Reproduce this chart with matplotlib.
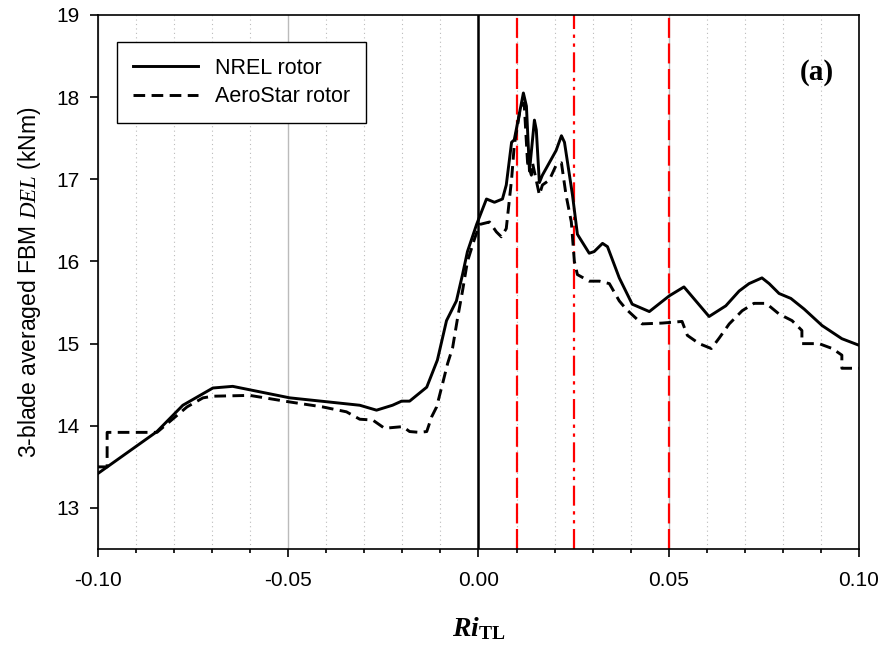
import numpy as np
import matplotlib
matplotlib.use("Agg")
import matplotlib.pyplot as plt
from matplotlib.ticker import MultipleLocator

plt.rcParams["font.family"] = ["Liberation Sans", "DejaVu Sans"]
plt.rcParams["mathtext.fontset"] = "custom"
plt.rcParams["mathtext.rm"] = "Liberation Sans"
plt.rcParams["mathtext.it"] = "Liberation Serif:italic"
plt.rcParams["mathtext.bf"] = "Liberation Serif:bold"
plt.rcParams["mathtext.bfit"] = "Liberation Serif:italic:bold"

# NREL rotor (solid)
ri_nrel = [-0.100, -0.0845, -0.0777, -0.0698, -0.0646, -0.0496, -0.0312, -0.0268,
           -0.0226, -0.0202, -0.0181, -0.0136, -0.0108, -0.0084, -0.0058, -0.0042,
           -0.0029, -0.0005, 0.0021, 0.0042, 0.0063, 0.0073, 0.0087, 0.0094,
           0.0108, 0.0118, 0.0126, 0.0134, 0.0147, 0.0152, 0.0160, 0.0168,
           0.0186, 0.0204, 0.0218, 0.0226, 0.0247, 0.0260, 0.0291, 0.0304,
           0.0326, 0.0339, 0.0370, 0.0404, 0.0449, 0.0501, 0.0540, 0.0606,
           0.0650, 0.0685, 0.0711, 0.0745, 0.0764, 0.0790, 0.0821, 0.0856,
           0.0903, 0.0955, 0.1000]
del_nrel = [13.42, 13.93, 14.25, 14.46, 14.48, 14.34, 14.25, 14.19,
            14.25, 14.30, 14.30, 14.47, 14.80, 15.28, 15.52, 15.84,
            16.12, 16.45, 16.76, 16.72, 16.76, 16.93, 17.45, 17.48,
            17.81, 18.05, 17.89, 17.10, 17.72, 17.60, 16.96, 17.05,
            17.20, 17.35, 17.53, 17.45, 16.81, 16.33, 16.10, 16.12,
            16.22, 16.18, 15.80, 15.48, 15.39, 15.58, 15.69, 15.33,
            15.46, 15.64, 15.73, 15.80, 15.73, 15.61, 15.55, 15.42,
            15.22, 15.06, 14.98]

# AeroStar rotor (dashed)
ri_aero = [-0.100, -0.0976, -0.0976, -0.0845, -0.0766, -0.0724, -0.0698, -0.0601,
           -0.0496, -0.0410, -0.0347, -0.0312, -0.0278, -0.0247, -0.0199, -0.0181,
           -0.0155, -0.0136, -0.0123, -0.0110, -0.0094, -0.0081, -0.0068, -0.0055,
           -0.0042, -0.0029, -0.0010, 0.0003, 0.0029, 0.0047, 0.0060, 0.0073,
           0.0087, 0.0094, 0.0108, 0.0120, 0.0129, 0.0139, 0.0142, 0.0160,
           0.0168, 0.0186, 0.0204, 0.0218, 0.0230, 0.0244, 0.0252, 0.0260,
           0.0291, 0.0318, 0.0344, 0.0370, 0.0388, 0.0430, 0.0483, 0.0535,
           0.0549, 0.0580, 0.0612, 0.0633, 0.0659, 0.0693, 0.0724, 0.0756,
           0.0790, 0.0824, 0.0850, 0.0850, 0.0895, 0.0930, 0.0955, 0.0955,
           0.1000]
del_aero = [13.50, 13.50, 13.92, 13.92, 14.23, 14.34, 14.36, 14.37,
            14.29, 14.23, 14.17, 14.08, 14.07, 13.97, 13.99, 13.93,
            13.92, 13.93, 14.11, 14.23, 14.52, 14.76, 14.95, 15.31,
            15.64, 16.00, 16.28, 16.45, 16.48, 16.36, 16.30, 16.40,
            17.00, 17.41, 17.81, 17.93, 17.20, 17.05, 17.20, 16.81,
            16.93, 16.99, 17.17, 17.20, 16.81, 16.48, 16.00, 15.84,
            15.76, 15.76, 15.73, 15.52, 15.42, 15.24, 15.25, 15.27,
            15.10, 15.00, 14.94, 15.07, 15.24, 15.40, 15.49, 15.49,
            15.36, 15.28, 15.16, 15.00, 15.00, 14.94, 14.86, 14.70,
            14.70]

x_ticks = [-0.10, -0.05, 0.00, 0.05, 0.10]
x_labels = ["-0.10", "-0.05", "0.00", "0.05", "0.10"]
y_ticks = [13, 14, 15, 16, 17, 18, 19]
red_dashed = [0.01, 0.05]
red_dashdot = [0.025]

fig = plt.figure(figsize=(8.86, 6.49), dpi=100)
ax = fig.add_axes([0.1106, 0.154, 0.8589, 0.823])

ax.set_xlim(-0.10, 0.10)
ax.set_ylim(12.5, 19)
ax.set_xticks(x_ticks)
ax.set_xticklabels(x_labels)
ax.xaxis.set_minor_locator(MultipleLocator(0.01))
ax.set_yticks(y_ticks)

ax.grid(which="major", axis="x", color="#bbbbbb", lw=1.0, ls="-")
ax.grid(which="minor", axis="x", color="#bbbbbb", lw=0.8, ls=(0, (1, 3)))
ax.set_axisbelow(True)

ax.axvline(0, color="black", lw=1.8, zorder=2)
for xv in red_dashed:
    ax.axvline(xv, color="#ff0000", lw=1.6, dashes=(9, 2.5), zorder=2)
for xv in red_dashdot:
    ax.axvline(xv, color="#ff0000", lw=1.6, dashes=(9, 2.5, 1.5, 2.5, 1.5, 2.5), zorder=2)

ax.plot(ri_nrel, del_nrel, color="black", lw=2.1, label="NREL rotor", zorder=3)
ax.plot(ri_aero, del_aero, color="black", lw=2.1, dashes=(4, 2.2),
        label="AeroStar rotor", zorder=3)

for s in ax.spines.values():
    s.set_linewidth(1.2)
ax.tick_params(axis="both", which="major", direction="out", length=6, width=1.2,
               labelsize=15)
ax.tick_params(axis="x", which="major", pad=10)
ax.tick_params(axis="y", which="major", pad=7)
ax.tick_params(axis="x", which="minor", direction="out", length=3, width=1.2)

ax.set_ylabel(r"3-blade averaged FBM $\mathit{DEL}$ (kNm)", fontsize=16.5, labelpad=10)
ax.set_xlabel(r"$\mathbfit{Ri}_{\mathbf{TL}}$", fontsize=20, labelpad=18)

ax.text(0.945, 0.893, "(a)", transform=ax.transAxes, ha="center", va="center",
        fontsize=21, fontweight="bold", family="Liberation Serif")

leg = ax.legend(loc="upper left", bbox_to_anchor=(0.025, 0.95), fontsize=15.5,
                frameon=True, fancybox=False, edgecolor="black", framealpha=1,
                handlelength=3.0, handletextpad=0.8, borderpad=0.75,
                labelspacing=0.35, borderaxespad=0)
leg.get_frame().set_linewidth(1.0)

fig.savefig("out.png", dpi=100)
